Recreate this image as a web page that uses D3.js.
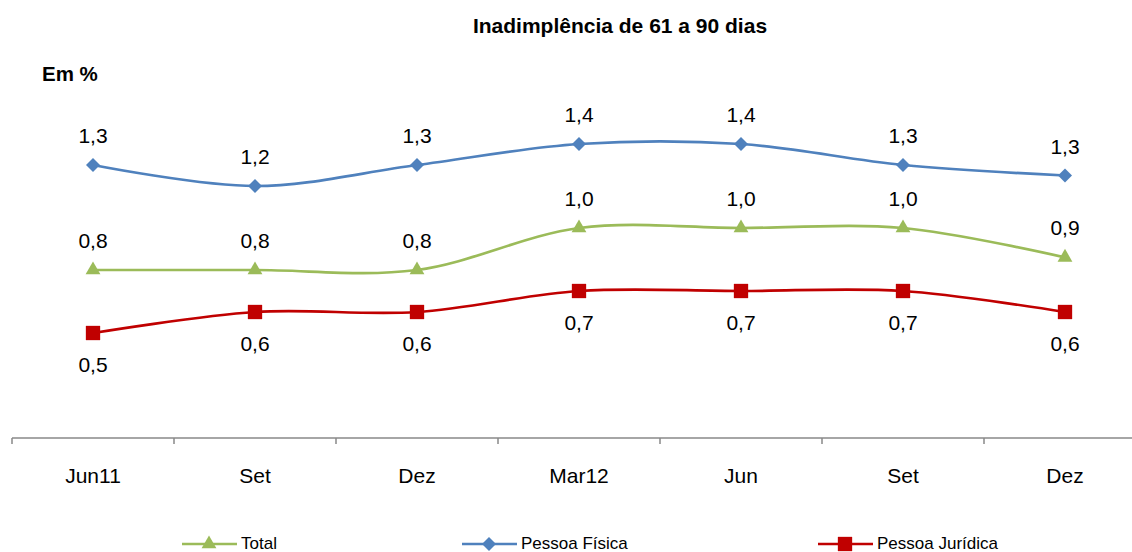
<html>
<head>
<meta charset="utf-8">
<script src="https://d3js.org/d3.v7.min.js"></script>
<style>
body {margin:0; background:#fff;}
text {font-family: "Liberation Sans", Arial, sans-serif; fill:#000;}
</style>
</head>
<body>
<svg width="1132" height="552"></svg>
<script>
const categories = ["Jun11", "Set", "Dez", "Mar12", "Jun", "Set", "Dez"];
const total = [0.8, 0.8, 0.8, 1.0, 1.0, 1.0, 0.86];
const pessoaFisica = [1.3, 1.2, 1.3, 1.4, 1.4, 1.3, 1.25];
const pessoaJuridica = [0.5, 0.6, 0.6, 0.7, 0.7, 0.7, 0.6];

const series = [
  {name: "Total", values: total, color: "#9BBB59", symbol: d3.symbolTriangle, size: 95, rot: 0, labelDy: -22, legendX: 182},
  {name: "Pessoa Física", values: pessoaFisica, color: "#4F81BD", symbol: d3.symbolSquare, size: 98, rot: 45, labelDy: -22, legendX: 462},
  {name: "Pessoa Jurídica", values: pessoaJuridica, color: "#C00000", symbol: d3.symbolSquare, size: 205, rot: 0, labelDy: 39, legendX: 818}
];

const svg = d3.select("svg");
const idx = d3.range(categories.length);

const x = d3.scaleBand().domain(idx).range([12, 1146]);
const y = d3.scaleLinear().domain([0, 1]).range([438, 228]);
const cx = i => x(i) + x.bandwidth() / 2;

// title
svg.append("text").attr("x", 620).attr("y", 33).attr("text-anchor", "middle")
  .style("font-size", "21px").style("font-weight", "bold").text("Inadimplência de 61 a 90 dias");
svg.append("text").attr("x", 42).attr("y", 81)
  .style("font-size", "20.5px").style("font-weight", "bold").text("Em %");

// axis
svg.append("line").attr("x1", 12).attr("x2", 1132).attr("y1", y(0)).attr("y2", y(0))
  .attr("stroke", "#898989").attr("stroke-width", 1.5);
svg.selectAll(".tick").data(idx).enter().append("line")
  .attr("x1", i => x(i)).attr("x2", i => x(i))
  .attr("y1", y(0)).attr("y2", y(0) + 6)
  .attr("stroke", "#898989").attr("stroke-width", 1.5);
svg.selectAll(".cat").data(idx).enter().append("text")
  .attr("x", cx).attr("y", 483).attr("text-anchor", "middle")
  .style("font-size", "21px").text(i => categories[i]);

const line = d3.line().x((d, i) => cx(i)).y(d => y(d)).curve(d3.curveCardinal.tension(0));

series.forEach(s => {
  const g = svg.append("g");
  g.append("path").datum(s.values).attr("d", line)
    .attr("fill", "none").attr("stroke", s.color).attr("stroke-width", 2.7);
  g.selectAll("path.m").data(s.values).enter().append("path").attr("class", "m")
    .attr("d", d3.symbol().type(s.symbol).size(s.size))
    .attr("transform", (d, i) => "translate(" + cx(i) + "," + y(d) + ") rotate(" + s.rot + ")")
    .attr("fill", s.color);
  g.selectAll("text").data(s.values).enter().append("text")
    .attr("x", (d, i) => cx(i)).attr("y", d => y(d) + s.labelDy)
    .attr("text-anchor", "middle").style("font-size", "21px")
    .text(d => d3.format(".1f")(d).replace(".", ","));

  // legend
  const lg = svg.append("g");
  lg.append("line").attr("x1", s.legendX).attr("x2", s.legendX + 55)
    .attr("y1", 544).attr("y2", 544).attr("stroke", s.color).attr("stroke-width", 2.7);
  lg.append("path").attr("d", d3.symbol().type(s.symbol).size(s.size))
    .attr("transform", "translate(" + (s.legendX + 27) + ",544) rotate(" + s.rot + ")").attr("fill", s.color);
  lg.append("text").attr("x", s.legendX + 59).attr("y", 549)
    .style("font-size", "17px").text(s.name);
});
</script>
</body>
</html>
